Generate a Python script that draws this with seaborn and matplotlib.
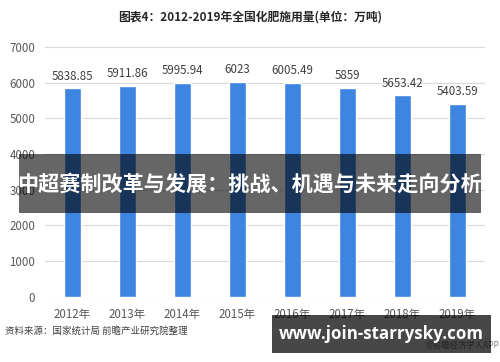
import numpy as np
import pandas as pd
import seaborn as sns
import matplotlib.pyplot as plt
from matplotlib.patches import Rectangle

# Daten
years = ['2012年', '2013年', '2014年', '2015年', '2016年', '2017年', '2018年', '2019年']
values = [5838.85, 5911.86, 5995.94, 6023, 6005.49, 5859, 5653.42, 5403.59]
value_labels = ['5838.85', '5911.86', '5995.94', '6023', '6005.49', '5859', '5653.42', '5403.59']
y_ticks = [0, 1000, 2000, 3000, 4000, 5000, 6000, 7000]

title = '图表4：2012-2019年全国化肥施用量(单位：万吨)'
overlay_text = '中超赛制改革与发展：挑战、机遇与未来走向分析'
source_text = '资料来源：国家统计局 前瞻产业研究院整理'
site_text = 'www.join-starrysky.com'
app_text = '@前瞻经济学人APP'

df = pd.DataFrame({'year': years, 'value': values})

sns.set_theme(style='white')
plt.rcParams['font.family'] = ['Noto Sans CJK SC', 'DejaVu Sans']

fig = plt.figure(figsize=(5, 3.62), dpi=100)
ax = fig.add_axes([0.09, 0.18, 0.88, 0.69])

sns.barplot(data=df, x='year', y='value', color='#3d85e0', saturation=1,
            width=0.31, ax=ax, zorder=3)

ax.set_ylim(0, 7000)
ax.set_xlim(-0.5, 7.5)
ax.set_yticks(y_ticks)
ax.set_yticklabels([str(t) for t in y_ticks])
ax.yaxis.grid(True, color='#d9d9d9', linewidth=0.8, zorder=0)
for s in ax.spines.values():
    s.set_visible(False)
ax.set_xlabel('')
ax.set_ylabel('')
ax.tick_params(axis='both', length=0, labelsize=8.3, colors='#595959')
ax.tick_params(axis='y', pad=7)
ax.tick_params(axis='x', pad=8)

for i, (v, t) in enumerate(zip(values, value_labels)):
    ax.annotate(t, (i, v), xytext=(0, 4), textcoords='offset points',
                ha='center', va='bottom', fontsize=8.3, color='#404040')

fig.text(0.5, 0.953, title, ha='center', va='center', fontsize=8.5,
         fontweight='bold', color='#262626')
fig.text(0.01, 0.085, source_text, ha='left', va='center', fontsize=6.8,
         color='#404040')
fig.text(0.998, 0.045, app_text, ha='right', va='center', fontsize=6,
         color='#808080')

# dunkles Band ueber der Grafik
fig.patches.append(Rectangle((19 / 500, 1 - 213 / 362), 462 / 500, 59 / 362,
                             transform=fig.transFigure, facecolor='black',
                             alpha=0.6, edgecolor='none', zorder=10))
fig.text(0.5, 1 - 184 / 362, overlay_text, ha='center', va='center',
         fontsize=15.2, fontweight='bold', color='white', zorder=11)

# Kasten unten rechts
fig.patches.append(Rectangle((272 / 500, 1 - 353 / 362), 219 / 500, 38 / 362,
                             transform=fig.transFigure, facecolor='black',
                             alpha=0.72, edgecolor='none', zorder=10))
fig.text(381.5 / 500, 1 - 334 / 362, site_text, ha='center', va='center',
         fontsize=12.2, fontweight='bold', color='white', zorder=11,
         family=['Open Sans', 'DejaVu Sans'])

fig.savefig('out.png', dpi=100)
